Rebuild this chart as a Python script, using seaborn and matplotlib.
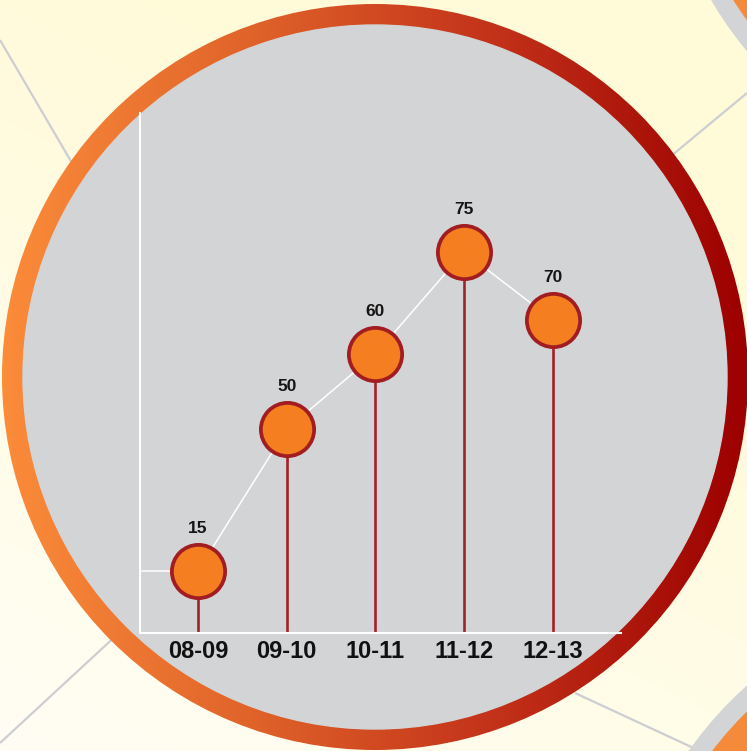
import numpy as np
import pandas as pd
import matplotlib
matplotlib.use("Agg")
import matplotlib.pyplot as plt
import seaborn as sns
from matplotlib.patches import Circle
from matplotlib.colors import LinearSegmentedColormap

# ---- data ----
periods = ["08-09", "09-10", "10-11", "11-12", "12-13"]
values = [15, 50, 60, 75, 70]                       # labels shown on the chart
marker_heights = [12.0, 39.2, 53.6, 73.3, 60.2]     # drawn height on the infographic's 0-100 scale

sns.set_theme(style="white")
plt.rcParams["font.family"] = ["Liberation Sans", "DejaVu Sans"]

W, H = 747, 751
fig = plt.figure(figsize=(W / 100, H / 100), dpi=100)

# ---- background decoration axes (pixel coordinates) ----
bg = fig.add_axes([0, 0, 1, 1])
bg.set_xlim(0, W)
bg.set_ylim(H, 0)
bg.axis("off")

gx, gy = np.meshgrid(np.linspace(0, 1, 200), np.linspace(0, 1, 200))
t = np.clip((gy * 0.8 + (1 - gx) * 0.4) - 0.3, 0, 1)
bg_cmap = LinearSegmentedColormap.from_list("bgc", ["#FFFAD8", "#FFFEF4"])
bg.imshow(t, cmap=bg_cmap, extent=[0, W, H, 0], aspect="auto", zorder=0)

line_col = "#CDCED2"
for (x0, y0), (x1, y1) in [((0, 40), (120, 245)),
                           ((747, 93), (600, 215)),
                           ((0, 743), (160, 595)),
                           ((575, 693), (700, 751))]:
    bg.plot([x0, x1], [y0, y1], color=line_col, lw=1.6, zorder=1, solid_capstyle="butt")

for cx, cy in [(1034, -188), (995, 965)]:
    bg.add_patch(Circle((cx, cy), 373, color="#D3D4D6", zorder=2))
    bg.add_patch(Circle((cx, cy), 354, color="#F58A3A", zorder=3))

cx, cy, R = 375, 377, 373
ring_cmap = LinearSegmentedColormap.from_list("ring", ["#FB8C3A", "#E0632A", "#C23119", "#9C0000"])
grad = np.tile(np.linspace(0, 1, 400), (10, 1))
im = bg.imshow(grad, cmap=ring_cmap, extent=[cx - R, cx + R, cy + R, cy - R],
               aspect="auto", zorder=4)
clip = Circle((cx, cy), R, transform=bg.transData, facecolor="none", edgecolor="none")
bg.add_patch(clip)
im.set_clip_path(clip)
bg.add_patch(Circle((cx, cy), R - 21, color="#D3D4D6", zorder=5))

# ---- chart axes ----
ax = fig.add_axes([140 / W, (H - 633) / H, 481 / W, 520 / H])
ax.set_facecolor("none")
xs = np.arange(len(periods))
df = pd.DataFrame({"period": periods, "x": xs, "h": marker_heights, "value": values})

ax.set_xlim(-0.655, 4.77)
ax.set_ylim(0, 100)

ax.vlines(df["x"], 0, df["h"], color="#A32128", lw=1.9, zorder=2)
ax.plot([ax.get_xlim()[0], 0], [marker_heights[0], marker_heights[0]], color="white", lw=1.1, zorder=1)
sns.lineplot(data=df, x="x", y="h", ax=ax, color="white", lw=1.1, zorder=1, sort=False)
sns.scatterplot(data=df, x="x", y="h", ax=ax, s=1470, color="#F47E20",
                edgecolor="#A11D22", linewidth=2.7, zorder=3, legend=False)

for _, r in df.iterrows():
    ax.annotate(str(r["value"]), (r["x"], r["h"]), xytext=(0, 30.5), textcoords="offset points",
                ha="center", va="center", fontsize=12.5, fontweight="bold", color="#151515")

ax.set_xticks(xs)
ax.set_xticklabels(periods, fontsize=17, fontweight="bold", color="#111111")
ax.set_yticks([])
ax.tick_params(axis="x", length=0, pad=5)
ax.set_xlabel("")
ax.set_ylabel("")
for s in ["top", "right"]:
    ax.spines[s].set_visible(False)
for s in ["left", "bottom"]:
    ax.spines[s].set_color("white")
    ax.spines[s].set_linewidth(1.5)

fig.savefig("out.png", dpi=100)
